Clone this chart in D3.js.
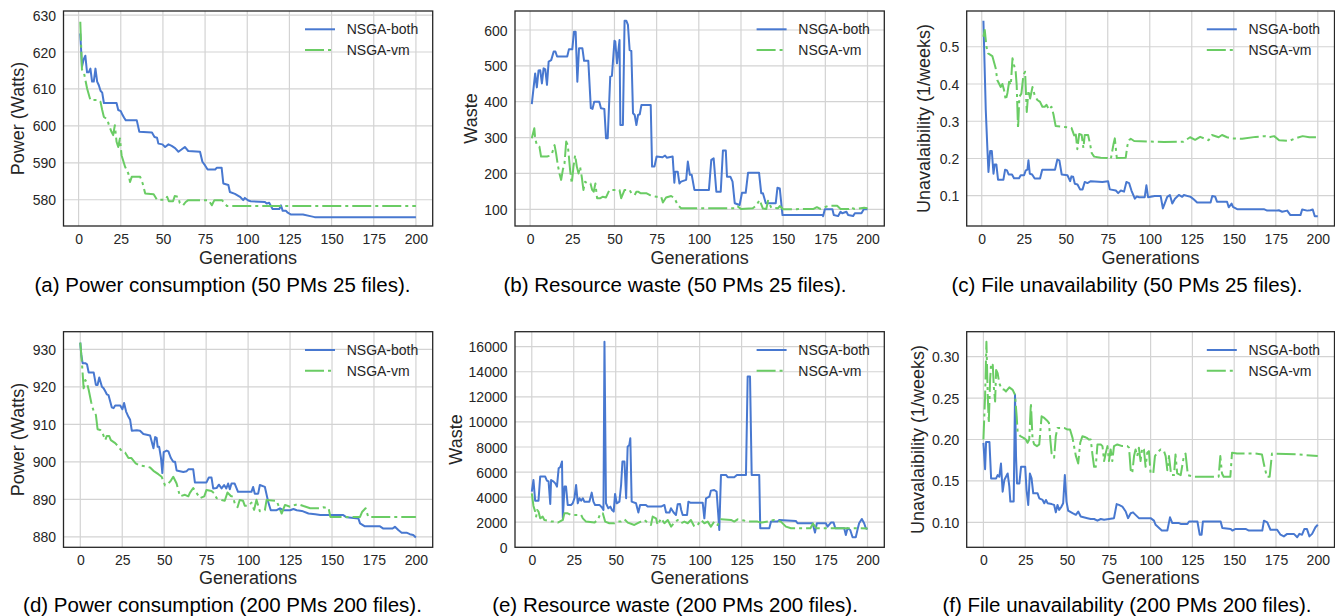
<!DOCTYPE html>
<html><head><meta charset="utf-8">
<script src="https://cdn.jsdelivr.net/npm/d3@7"></script>
<style>html,body{margin:0;padding:0;background:#fff;}svg{display:block;font-family:"Liberation Sans",Arial,Helvetica,sans-serif;}</style>
</head><body>
<svg id="chart" width="1335" height="616"></svg>
<script>
// ---- data: [generation, value] ----
const seriesNames = ["NSGA-both", "NSGA-vm"];

const powerBoth50 = [[1,625],[2,616],[3,618],[4,619],[5,614.5],[6,614.5],[7,615.5],[8,612],[9,612],[10,615.5],[11,612],[12,611],[13,609.5],[14,609],[15,606.2],[22.5,606.2],[23.5,604.3],[25,604],[26,603],[27,602.2],[28,601.5],[34.5,601.5],[36,598.4],[43.5,598.2],[45,597],[46.5,596.8],[47.3,595.2],[49.7,595],[51.3,594.3],[53.3,595],[55.2,594.6],[57.2,594],[59.2,593],[61,593.6],[63,594.3],[65,593.2],[72,593],[73.4,590.3],[75,589.3],[76.5,588.2],[81,588.2],[82,588.7],[84.8,588.7],[85.8,584.4],[88.8,584],[89.7,582.1],[92.7,581.6],[95.7,580.8],[97.6,579.9],[98.6,580.5],[100.6,579.8],[102,579.6],[110.5,579.4],[111.5,579],[113,579.2],[115,577.5],[119,577.5],[120,578.5],[121,577],[123,577],[124,576.5],[126,576],[133,576],[138,575.5],[140,575.3],[200,575.3]];
const powerVm50 = [[1,628.2],[2,615.2],[3,614.8],[4,612.5],[5,610.2],[7,607],[12,607],[13,606.5],[14,604.3],[15,602.4],[17,601.8],[18,600.2],[19.5,598.4],[20.5,597.5],[21.5,600.2],[22.5,595.7],[23.5,594.3],[24.5,596.6],[25.5,592],[27.5,589],[29.5,587.1],[30.5,584.8],[31.5,586.2],[36.5,586.2],[38,584.4],[39.5,581.7],[44.5,581.5],[46.5,580],[51.5,580],[52.5,580.8],[53.5,579.6],[56,579.6],[57,581],[59,580.8],[60,579.1],[62,578.5],[63.5,579.4],[65,579.9],[77,579.9],[79,578.5],[80.5,579.9],[85,579.9],[88,578.3],[200,578.3]];

const wasteBoth50 = [[1,393],[3,479],[4,440],[5,487],[6,488],[7,451],[8,493],[9,490],[10,447],[11,512],[12.5,516],[14,540],[15,540],[16,526],[22,526],[23,546],[25,546],[26,595],[27,595],[28,456],[29,549],[31,549],[32,514],[34.5,514],[36,382],[37,380],[38,400],[41,400],[42,382],[44,380],[45,298],[46,298],[47.5,470],[48.5,472],[50,570],[50.5,568],[51.5,507],[53,572],[53.5,335],[55,335],[56,626],[57,626],[58,614],[59,544],[60,542],[61,368],[62,363],[63,335],[64,363],[65,365],[66,391],[71.5,391],[72.3,219],[73.7,219],[75,247],[78.5,245],[80,250],[81,244],[84.5,247],[85.5,174],[86,205],[87.5,205],[88.5,172],[89.5,177],[92.5,182],[93.5,233],[94.7,196],[95.8,196],[97.4,154],[106,154],[107.4,238],[108.8,242],[110.4,149],[113,149],[114.3,264],[116,264],[116.7,191],[118.7,191],[120,177],[121.3,117],[124.2,112],[125.6,146],[127.8,146],[129.2,202],[135.7,202],[137,145],[138,145],[139.7,117],[145.6,117],[146.6,160],[148,158],[149.6,84],[173.3,84],[173.7,81],[174.7,100],[179.2,100],[180,84],[182.6,81],[184,93],[185,89],[187.5,93],[188.5,84],[191.5,81],[192.5,89],[196.4,89],[197.8,100],[200,100]];
const wasteVm50 = [[1,298],[2.5,326],[3,298],[4,279],[5.5,275],[6.5,247],[10,247],[11.5,249],[13,256],[14.5,279],[15.4,256],[16.4,224],[17.4,200],[18.4,182],[19.4,210],[20.4,228],[21.4,289],[22.3,279],[23,247],[23.7,210],[24.7,172],[25.7,219],[26.7,251],[27.7,219],[28.7,200],[29.6,219],[30.6,191],[31.6,154],[32.6,177],[34,172],[35.8,172],[36.8,154],[37.7,149],[38.7,172],[39.7,131],[41.7,131],[43,135],[45,133],[47,154],[53,154],[54,131],[56,154],[59,154],[60,145],[62,140],[63,149],[64,149],[65.4,145],[68.8,145],[70.8,140],[74.7,135],[77.7,135],[78.7,119],[80.6,133],[83.6,137],[85.6,131],[87.5,112],[89.5,103],[122,103],[123,108],[125,101],[132,103],[134,110],[136,126],[138,102],[140,101],[141,124],[143,104],[147,103],[148,109],[150,100],[168,101],[170,106],[172,101],[177,110],[182,110],[184,101],[189,101],[190,106],[192,101],[198,104],[200,103]];

const unavailBoth50 = [[1,0.570],[2.4,0.33],[3.4,0.222],[4,0.164],[5,0.220],[6,0.220],[7,0.159],[7.7,0.184],[8.7,0.184],[9.7,0.143],[12.9,0.143],[13.9,0.170],[15,0.168],[16,0.157],[18,0.157],[19.2,0.147],[22.2,0.147],[23.2,0.155],[25.2,0.155],[26.2,0.168],[27.2,0.170],[27.8,0.195],[28.6,0.159],[30,0.157],[31.5,0.146],[34.7,0.146],[36,0.170],[43.6,0.170],[45,0.197],[46.2,0.195],[47.6,0.157],[51,0.155],[52.6,0.139],[53.4,0.152],[54.4,0.151],[55.4,0.132],[57,0.130],[58.5,0.117],[60,0.117],[61.3,0.137],[62.9,0.134],[64.9,0.139],[71.8,0.137],[75.2,0.139],[76.2,0.117],[79.8,0.114],[81.2,0.107],[82.8,0.114],[84.7,0.111],[86.1,0.137],[87.7,0.134],[89.1,0.114],[91.1,0.092],[92.3,0.098],[93.7,0.096],[97,0.096],[98,0.128],[99,0.096],[103,0.099],[106.5,0.099],[107.8,0.066],[110.4,0.097],[112,0.102],[113.4,0.079],[115,0.092],[117.3,0.102],[119.3,0.097],[120.3,0.102],[124.3,0.097],[126.3,0.090],[128.2,0.082],[136.2,0.082],[137.2,0.099],[139,0.097],[140,0.084],[146,0.084],[147,0.069],[148.7,0.079],[149.5,0.070],[152,0.064],[167.9,0.064],[169.9,0.060],[174.8,0.060],[176.8,0.061],[178.8,0.057],[181.8,0.060],[183.7,0.048],[189.7,0.048],[190.7,0.063],[193.7,0.060],[195.6,0.061],[197,0.063],[198.2,0.045],[200,0.045]];
const unavailVm50 = [[1,0.527],[1.8,0.545],[2.8,0.5],[3.8,0.482],[6.3,0.475],[8.3,0.442],[9.3,0.41],[11.3,0.392],[12.3,0.4],[13.3,0.383],[14.3,0.357],[15.3,0.376],[16.3,0.406],[17.3,0.397],[18.3,0.469],[19.2,0.451],[20.2,0.433],[20.8,0.397],[21.6,0.28],[22.4,0.366],[23.6,0.374],[24.8,0.424],[25.8,0.433],[26.8,0.325],[27.8,0.383],[28.8,0.361],[30.2,0.392],[31.5,0.37],[33.1,0.357],[34.7,0.352],[36.1,0.339],[37.5,0.339],[38.5,0.344],[40.1,0.331],[41.5,0.339],[42.7,0.318],[44,0.287],[51,0.284],[53.4,0.282],[55,0.262],[56,0.264],[56.9,0.225],[58,0.266],[59.5,0.263],[60.5,0.228],[61.3,0.263],[63.3,0.263],[64.5,0.238],[65.5,0.214],[66.9,0.205],[70.8,0.202],[74.8,0.201],[76.8,0.198],[78.4,0.238],[79.2,0.254],[80.4,0.201],[85.7,0.202],[86.7,0.235],[87.7,0.249],[88.7,0.253],[90.7,0.247],[108.5,0.244],[120,0.245],[124,0.257],[127,0.250],[130,0.258],[135,0.249],[137,0.263],[141,0.257],[143,0.263],[146,0.257],[149,0.254],[155,0.253],[163,0.258],[169,0.260],[171,0.257],[174,0.260],[177,0.249],[183,0.247],[186,0.253],[191,0.260],[195,0.257],[200,0.257]];

const powerBoth200 = [[0,931.8],[0.6,928.5],[1.4,926.3],[3,926.3],[4,926],[5,923.8],[8,923.8],[9.3,920.5],[10.3,920.5],[11.3,922.5],[12.9,920],[13.9,919.6],[14.9,918.8],[15.8,918],[16.8,917.8],[18.8,914.5],[19.8,914.3],[20.8,915],[23.8,915],[25.1,914],[26.1,915.7],[27.3,913.4],[28.7,912],[29.7,911.2],[30.7,908.3],[33.7,908.4],[35.6,908.3],[37.6,907.4],[41.6,907],[43.6,903.6],[44.6,906.6],[45.5,906.4],[46.1,904],[47,904],[48.1,901],[48.9,897],[49.7,902.6],[51.5,903],[52.5,902.8],[54,901],[55.4,900],[56.5,900],[57.4,897.7],[61.4,897.3],[63.4,897.5],[64.4,898],[67.3,898],[68.3,894.5],[75.2,894.5],[76.6,895.8],[78.2,895.8],[79.2,892.9],[81.2,893],[82.6,893.9],[84.2,892.9],[85.7,893.8],[87,892.9],[88.1,894.2],[89.1,892.7],[90.1,894.2],[92,894.2],[94,892],[102,892],[103,893.3],[104,891.5],[106,891.5],[107,893.8],[110,893.3],[112,889.3],[113.5,887.1],[117,887.1],[119,887.6],[121,887.1],[125,887.1],[127,887.4],[129,887.1],[132,886.9],[136,886.2],[140,886],[143,885.8],[156.7,885.8],[158.7,885.2],[165.7,884.9],[166.7,883.6],[169.6,882.8],[178.6,882.8],[180.6,882.2],[186.1,882.2],[187.5,882.7],[189.5,881.8],[191.5,881.1],[194.4,881.1],[196.4,880.7],[198.4,880.5],[200,879.8]];
const powerVm200 = [[0,931.8],[1,926.3],[2,919.6],[3,921.8],[4,921],[5,919.2],[6.5,915.9],[8,913.4],[9.3,912.5],[10.3,908.7],[11.9,908.5],[13.3,907.6],[14.9,905.8],[15.8,906.9],[17.2,906.9],[18.2,905.8],[20.8,905],[22.8,904],[24.8,902.8],[26.7,902.5],[28.7,901],[30.5,901],[33,899.6],[35.6,899],[38.6,898.8],[41.6,898.5],[43.6,897.6],[46.5,896.7],[48.5,896],[50.5,893.7],[52.5,894.2],[54,895],[55.4,896],[57.4,894.2],[59.4,890.8],[62.4,891.2],[64.4,890.8],[65.3,891.7],[67.3,893],[69.3,891.7],[71.3,890.3],[73.9,890.8],[75.2,892.5],[78.2,892.2],[79.8,891.6],[81.2,890.3],[84.2,889.8],[86.1,889.6],[87.7,891.8],[89.7,890.9],[91,890.7],[92.1,888.8],[93.7,887.9],[95,889.8],[97,889.6],[98,888.3],[100.4,888.3],[102,889.1],[103.6,887.2],[105,889.9],[107,886.8],[110,887.1],[111,889.8],[117,889.6],[120,886.2],[122,888.5],[125,888],[128,888.5],[130,888.7],[133,888.2],[137,887.6],[143,887.6],[145,887.9],[148,887.6],[149,885.3],[166.7,885.3],[168,886.7],[170,887.6],[171.6,885.3],[200,885.3]];

const wasteBoth200 = [[0,4440],[1,5370],[2,3720],[4,3720],[5,5640],[8,5640],[9,5320],[10,5250],[11,3460],[11.5,5370],[13,5240],[14,5100],[15,4840],[16,6300],[17,6400],[18,6840],[18.5,2310],[19.5,4840],[20.4,4840],[21.4,3380],[23.4,3380],[24.4,3510],[25.4,3910],[26.4,4970],[27.4,3510],[28.4,3910],[29.4,3720],[30.4,3910],[31.3,3640],[34.3,3640],[35.7,4360],[36.7,3640],[37.7,3380],[40.3,3380],[41.7,3190],[42.7,2980],[43.3,16400],[44.2,3510],[45.6,3110],[46.8,3240],[47.8,2980],[48.8,2850],[49.6,4260],[50.6,3510],[52.2,3640],[53.2,4970],[54,6840],[55.2,6840],[56.2,3910],[57.1,8030],[58.1,8160],[58.7,8700],[59.5,3640],[62.1,3510],[63.5,2770],[64.5,3380],[68,3380],[69,3250],[77,3250],[79,3380],[80,2770],[82,2770],[82.9,3110],[84.5,2770],[85.9,2580],[86.9,3430],[88.3,3460],[89,2980],[89.9,2580],[92.5,2580],[93.3,3640],[94.4,3560],[101.8,3560],[102.8,2310],[103.8,3910],[105.8,4040],[106.7,4520],[108.7,4570],[110.1,4440],[111.1,2580],[111.7,1380],[112.7,5770],[115.7,5770],[116.7,5590],[120.6,5590],[122.2,5770],[127.6,5770],[128.6,13620],[130,13620],[131,5770],[135.5,5770],[136.1,1520],[141.5,1520],[142.5,2050],[146.4,2050],[147.4,2180],[157.3,2100],[158.3,1920],[167.3,1920],[168.7,1170],[169.8,1920],[175.2,1920],[176.2,1650],[178.2,1970],[179.8,1970],[180.8,1520],[186.1,1520],[187.1,980],[188.1,1520],[189.7,1380],[191.1,800],[193,800],[194,1380],[195,1920],[196.6,2260],[198,1920],[199,1520],[200,1460]];
const wasteVm200 = [[0,4310],[1,3300],[2,2850],[2.6,2450],[3.2,2980],[4,2850],[5,2310],[6.5,2450],[7.5,2180],[9.5,2130],[11.5,2050],[13.5,2050],[15.5,1970],[18.5,2180],[19.4,2710],[21.4,2710],[23.4,2580],[29.4,2580],[30.4,2310],[32.3,2050],[37.3,1970],[39.3,2180],[40.9,2710],[42.3,2710],[43.7,2050],[46.2,1920],[49.2,1920],[51.2,2050],[53.2,2050],[55.2,2230],[57.2,1970],[61.1,1780],[63.1,1920],[65,2050],[67,2180],[69,1970],[71,1780],[72,2450],[74,2310],[75,1780],[77,2310],[79,1920],[81,2180],[83,1650],[85,1970],[86.9,2180],[88.9,1920],[90.9,2050],[92.9,1920],[94.8,2180],[96.8,1650],[98.8,1780],[100.8,2180],[102.8,1920],[104.8,2050],[106.7,1650],[108.7,2050],[110.7,1780],[112.7,2230],[118.7,2180],[120.6,2050],[122.6,2230],[126.6,2130],[128.6,2050],[134.5,2050],[136.5,1970],[140.5,2050],[144.4,2180],[148.4,2050],[151.4,1650],[154.4,1520],[166,1520],[167.5,1900],[169.5,1520],[193,1520],[200,1500]];

const unavailBoth200 = [[0,0.196],[1,0.164],[1.6,0.197],[3.6,0.197],[4.6,0.153],[7.6,0.153],[8.5,0.157],[9.5,0.155],[10.5,0.171],[11.5,0.137],[12.5,0.151],[13.5,0.155],[14.5,0.159],[15.5,0.143],[16.1,0.125],[18.1,0.125],[18.9,0.254],[19.5,0.18],[20.1,0.147],[21.5,0.147],[22.5,0.167],[25,0.167],[25.8,0.139],[26.8,0.121],[27.8,0.159],[28.8,0.153],[29.8,0.135],[32.4,0.135],[33.4,0.129],[35.4,0.127],[36.4,0.123],[37.4,0.127],[38.4,0.123],[40.8,0.122],[42.3,0.121],[43.3,0.112],[44.3,0.121],[45.3,0.115],[46.7,0.119],[47.7,0.123],[48.7,0.157],[49.7,0.125],[50.7,0.114],[53.3,0.111],[55.3,0.109],[56.7,0.113],[58.2,0.107],[62.2,0.105],[64.2,0.104],[66.2,0.104],[68.2,0.102],[70.2,0.104],[72.2,0.103],[75.1,0.104],[78.1,0.105],[79.7,0.122],[81.1,0.121],[83.1,0.119],[85.1,0.113],[86.5,0.105],[88.1,0.111],[89.5,0.112],[91,0.109],[93,0.105],[100,0.105],[102,0.102],[103,0.097],[106.7,0.090],[110,0.090],[111.6,0.106],[113,0.099],[117,0.099],[118,0.098],[122,0.098],[123,0.101],[128,0.101],[129.4,0.085],[130.5,0.085],[131.3,0.101],[141.9,0.101],[142.9,0.093],[147.9,0.092],[148.9,0.090],[150.8,0.092],[156.8,0.092],[158.8,0.090],[166.8,0.090],[167.8,0.102],[169.8,0.100],[171.7,0.091],[175.7,0.091],[177.7,0.085],[179.7,0.083],[181.7,0.086],[185.7,0.086],[187.7,0.082],[189,0.086],[190.6,0.085],[192,0.092],[193.5,0.092],[195,0.083],[196.6,0.086],[198.6,0.094],[200,0.097]];
const unavailVm200 = [[0,0.2],[1,0.252],[1.8,0.318],[2.6,0.252],[3.2,0.22],[4,0.272],[4.6,0.292],[5.6,0.29],[6.2,0.264],[7,0.246],[7.6,0.284],[8.5,0.28],[9.5,0.268],[10.9,0.261],[12.5,0.26],[13.5,0.258],[15.5,0.263],[17.5,0.26],[18.9,0.254],[19.9,0.228],[20.5,0.208],[22.1,0.204],[24,0.202],[25.4,0.2],[26.4,0.196],[27.4,0.2],[28.4,0.244],[29.4,0.2],[30.4,0.194],[32,0.192],[33.4,0.194],[34.8,0.228],[36.4,0.226],[38,0.223],[39.2,0.22],[40,0.2],[40.8,0.183],[42.3,0.178],[43.3,0.204],[44.3,0.214],[48.3,0.214],[50.3,0.212],[51.8,0.212],[53.3,0.202],[55.3,0.18],[56.7,0.171],[57.9,0.196],[59.2,0.204],[60.6,0.203],[61.8,0.202],[63,0.2],[64.2,0.2],[65.2,0.182],[66.2,0.167],[67.2,0.167],[68.2,0.194],[70.2,0.194],[71.2,0.192],[72.2,0.174],[73.2,0.184],[74.2,0.192],[75.1,0.174],[76.1,0.188],[77.1,0.174],[78.1,0.192],[80.1,0.194],[83,0.192],[86.1,0.192],[87.1,0.19],[88.1,0.163],[89,0.159],[90.1,0.18],[91,0.188],[92,0.18],[93,0.19],[94,0.174],[95,0.19],[96,0.188],[97,0.167],[98,0.184],[99,0.186],[100,0.159],[101.6,0.159],[102.6,0.18],[104,0.184],[106,0.188],[108,0.186],[109,0.18],[110,0.163],[111,0.18],[112.3,0.157],[114,0.157],[114.9,0.182],[115.9,0.159],[118,0.157],[119.9,0.18],[120.9,0.183],[122.3,0.157],[125.8,0.155],[137.8,0.155],[140.7,0.155],[141.7,0.18],[142.7,0.159],[143.7,0.155],[147.7,0.155],[148.7,0.184],[151.7,0.183],[162.6,0.183],[166.6,0.182],[167.6,0.172],[168.6,0.163],[169.6,0.155],[171.2,0.155],[172.6,0.183],[187.5,0.182],[200,0.18]];

// tick labels
const xTicks = [0,25,50,75,100,125,150,175,200];
const yTicksPower50 = [580,590,600,610,620,630];
const yTicksWaste50 = [100,200,300,400,500,600];
const yTicksUnavail50 = [0.1,0.2,0.3,0.4,0.5];
const yTicksPower200 = [880,890,900,910,920,930];
const yTicksWaste200 = [0,2000,4000,6000,8000,10000,12000,14000,16000];
const yTicksUnavail200 = [0.10,0.15,0.20,0.25,0.30];

const captions = [
  "(a) Power consumption (50 PMs 25 files).",
  "(b) Resource waste (50 PMs 25 files).",
  "(c) File unavailability (50 PMs 25 files).",
  "(d) Power consumption (200 PMs 200 files).",
  "(e) Resource waste (200 PMs 200 files).",
  "(f) File unavailability (200 PMs 200 files)."
];
const yLabels = ["Power (Watts)","Waste","Unavalaibility (1/weeks)","Power (Watts)","Waste","Unavalaibility (1/weeks)"];

// ---- layout / styles ----
const cols = [{l:63.5,r:432.7,cap:222.5},{l:515,r:884.3,cap:675},{l:966.7,r:1334.5,cap:1127}];
const rows = [{t:11,b:226,xd:[-8.95,209.95],tickY:244.3,genY:263.5,capY:292},
              {t:331.7,b:547.3,xd:[-10,210],tickY:565,genY:584.3,capY:611.5}];
const colors = ["#4878d0","#6acc64"];
const dashes = [null,"19,4,3,4"];
const textColor = "#262626";

const panels = [
  {r:0,c:0,data:[powerBoth50,powerVm50],yd:[572.9,631.1],ticks:yTicksPower50,fmt:d3.format("d"),ylab:23.5},
  {r:0,c:1,data:[wasteBoth50,wasteVm50],yd:[53.4,653],ticks:yTicksWaste50,fmt:d3.format("d"),ylab:477},
  {r:0,c:2,data:[unavailBoth50,unavailVm50],yd:[0.0187,0.596],ticks:yTicksUnavail50,fmt:d3.format(".1f"),ylab:930},
  {r:1,c:0,data:[powerBoth200,powerVm200],yd:[877.2,934.7],ticks:yTicksPower200,fmt:d3.format("d"),ylab:23.5},
  {r:1,c:1,data:[wasteBoth200,wasteVm200],yd:[0,17196],ticks:yTicksWaste200,fmt:d3.format("d"),ylab:461.5},
  {r:1,c:2,data:[unavailBoth200,unavailVm200],yd:[0.0698,0.3302],ticks:yTicksUnavail200,fmt:d3.format(".2f"),ylab:924}
];

const svg = d3.select("#chart");
panels.forEach((p,i)=>{
  const C = cols[p.c], R = rows[p.r];
  const x = d3.scaleLinear().domain(R.xd).range([C.l,C.r]);
  const y = d3.scaleLinear().domain(p.yd).range([R.b,R.t]);
  const g = svg.append("g");
  // grid
  g.append("g").selectAll("line").data(xTicks).join("line")
    .attr("x1",d=>x(d)).attr("x2",d=>x(d)).attr("y1",R.t).attr("y2",R.b)
    .attr("stroke","#d3d3d3").attr("stroke-width",1.2);
  g.append("g").selectAll("line").data(p.ticks).join("line")
    .attr("x1",C.l).attr("x2",C.r).attr("y1",d=>y(d)).attr("y2",d=>y(d))
    .attr("stroke","#d3d3d3").attr("stroke-width",1.2);
  // axes via d3 axis generators (tickSize 0, labels only)
  const xa = g.append("g").attr("transform",`translate(0,${R.tickY-14})`)
    .call(d3.axisBottom(x).tickValues(xTicks).tickSize(0).tickPadding(0));
  xa.select(".domain").remove();
  xa.selectAll("text").attr("dy",null).attr("y",14).attr("font-size",14)
    .attr("fill",textColor).attr("font-family","Liberation Sans, Arial, sans-serif");
  const ya = g.append("g").attr("transform",`translate(${C.l-7.5},0)`)
    .call(d3.axisLeft(y).tickValues(p.ticks).tickFormat(p.fmt).tickSize(0).tickPadding(0));
  ya.select(".domain").remove();
  ya.selectAll("text").attr("x",0).attr("dy","0.36em").attr("font-size",14)
    .attr("fill",textColor).attr("font-family","Liberation Sans, Arial, sans-serif");
  // lines
  const line = d3.line().x(d=>x(d[0])).y(d=>y(d[1]));
  p.data.forEach((s,k)=>{
    g.append("path").datum(s).attr("d",line).attr("fill","none")
      .attr("stroke",colors[k]).attr("stroke-width",2)
      .attr("stroke-linejoin","round")
      .attr("stroke-dasharray",dashes[k]);
  });
  // frame
  g.append("rect").attr("x",C.l).attr("y",R.t).attr("width",C.r-C.l).attr("height",R.b-R.t)
    .attr("fill","none").attr("stroke",textColor).attr("stroke-width",1.3);
  // legend
  seriesNames.forEach((n,k)=>{
    const ly = R.t + 18.3 + k*20.7;
    g.append("line").attr("x1",C.r-127.7).attr("x2",C.r-97.7).attr("y1",ly).attr("y2",ly)
      .attr("stroke",colors[k]).attr("stroke-width",2).attr("stroke-dasharray",dashes[k]);
    g.append("text").attr("x",C.r-86).attr("y",ly).attr("dy","0.36em").attr("font-size",14)
      .attr("fill",textColor).text(n);
  });
  // axis labels
  g.append("text").attr("x",(C.l+C.r)/2).attr("y",R.genY).attr("text-anchor","middle")
    .attr("font-size",18).attr("fill",textColor).text("Generations");
  g.append("text").attr("transform",`translate(${p.ylab},${(R.t+R.b)/2}) rotate(-90)`)
    .attr("text-anchor","middle").attr("font-size",18).attr("fill",textColor).text(yLabels[i]);
  // caption
  g.append("text").attr("x",C.cap).attr("y",R.capY).attr("text-anchor","middle")
    .attr("font-size",20.5).attr("fill","#000").text(captions[i]);
});
</script>
</body></html>
